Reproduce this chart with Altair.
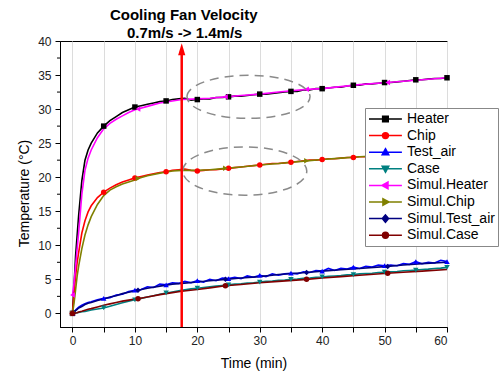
import altair as alt
import pandas as pd

series_names = ["Heater", "Chip", "Test_air", "Case",
                "Simul.Heater", "Simul.Chip", "Simul.Test_air", "Simul.Case"]
series_colors = ["#000000", "#ff0000", "#0000ff", "#008080",
                 "#ff00ff", "#808000", "#000080", "#800000"]
marker_shapes = ["square", "circle", "triangle-up", "triangle-down",
                 "triangle-left", "triangle-right", "diamond", "circle"]

# measured sampling (min)
meas_t = [0, 0.25, 0.5, 0.75, 1, 1.5, 2, 2.5, 3, 4, 5, 6, 7, 8, 9, 10, 11, 12, 13, 14, 15,
          16, 17, 18, 19, 20, 21, 22, 23, 24, 25, 26, 27, 28, 29, 30, 31, 32, 33, 34, 35,
          36, 37, 38, 39, 40, 41, 42, 43, 44, 45, 46, 47, 48, 49, 50, 51, 52, 53, 54, 55,
          56, 57, 58, 59, 60]
heater = [0, 4, 8.5, 11.5, 14.5, 19.5, 22.5, 24.0, 25.0, 26.5, 27.5, 28.3, 28.9, 29.5, 29.9, 30.3,
          30.5, 30.7, 30.9, 31.1, 31.2, 31.4, 31.5, 31.6, 31.3, 31.4, 31.5, 31.5, 31.7, 31.7,
          31.8, 31.9, 31.9, 32.0, 32.1, 32.2, 32.2, 32.3, 32.4, 32.5, 32.6, 32.6, 32.8, 32.8,
          33.0, 33.0, 33.1, 33.2, 33.2, 33.4, 33.5, 33.5, 33.7, 33.7, 33.8, 33.9, 33.9, 34.0,
          34.1, 34.2, 34.3, 34.3, 34.4, 34.5, 34.5, 34.6]
chip = [0, 3, 5.5, 7.5, 9, 11.8, 13.6, 14.9, 15.8, 17.0, 17.8, 18.4, 18.9, 19.3, 19.6, 19.9,
        20.1, 20.3, 20.5, 20.7, 20.8, 21.0, 21.1, 21.2, 21.0, 20.9, 21.0, 21.1, 21.1, 21.2,
        21.3, 21.4, 21.5, 21.6, 21.7, 21.8, 21.9, 22.0, 22.0, 22.1, 22.2, 22.3, 22.4, 22.5,
        22.5, 22.6, 22.7, 22.7, 22.8, 22.9, 22.9, 23.0, 23.0, 23.1, 23.1, 23.2, 23.2, 23.3,
        23.3, 23.4, 23.4, 23.5, 23.5, 23.6, 23.6, 23.7]
test_air = [0, 0.2, 0.5, 0.7, 0.9, 1.2, 1.4, 1.6, 1.7, 2.0, 2.2, 2.3, 2.7, 2.8, 3.2, 3.4,
            3.5, 3.9, 3.8, 4.3, 4.2, 4.5, 4.4, 4.7, 4.5, 4.8, 4.6, 5.0, 4.8, 5.2, 5.1, 5.3,
            5.1, 5.5, 5.3, 5.6, 5.4, 5.8, 5.6, 5.8, 5.9, 5.8, 6.1, 6.0, 6.3, 6.2, 6.6, 6.3,
            6.6, 6.5, 6.8, 6.6, 6.9, 6.8, 7.1, 7.0, 7.1, 7.0, 7.3, 7.2, 7.6, 7.3, 7.5, 7.4,
            7.8, 7.6]
case = [0, 0, 0.05, 0.1, 0.15, 0.25, 0.3, 0.4, 0.5, 0.65, 0.8, 1.05, 1.3, 1.55, 1.8, 2.0,
        2.2, 2.4, 2.6, 2.8, 3.0, 3.15, 3.3, 3.45, 3.6, 3.7, 3.8, 3.9, 4.0, 4.1, 4.2, 4.3,
        4.35, 4.45, 4.5, 4.6, 4.7, 4.75, 4.85, 4.9, 5.0, 5.05, 5.15, 5.2, 5.3, 5.35, 5.45,
        5.5, 5.55, 5.65, 5.7, 5.8, 5.85, 5.9, 6.0, 6.05, 6.1, 6.15, 6.25, 6.3, 6.35, 6.45,
        6.5, 6.6, 6.65, 6.75]
meas_marker_t = [0, 5, 10, 15, 20, 25, 30, 35, 40, 45, 50, 55, 60]

# simulation sampling (min)
sim_t = [0, 0.25, 0.5, 0.75, 1, 1.5, 2, 2.5, 3, 4, 5, 6, 7, 8, 9, 10, 10.5, 12, 14, 16, 17.5,
         20, 22, 24.5, 27, 30, 33, 37.5, 40, 43, 46, 50.5, 53, 56, 60]
sim_heater = [2.7, 4.5, 7, 9.5, 12, 17.5, 21.0, 22.8, 24.0, 25.8, 27.1, 27.9, 28.5, 29.0, 29.5,
              29.9, 30.0, 30.4, 30.9, 31.2, 31.4, 31.5, 31.6, 31.8, 32.0, 32.2, 32.5, 32.9,
              33.0, 33.3, 33.6, 33.9, 34.1, 34.3, 34.6]
sim_chip = [0, 1.5, 3.5, 5.5, 7, 9.5, 11.5, 13.0, 14.2, 16.0, 17.3, 18.1, 18.6, 19.0, 19.3,
            19.6, 19.8, 20.2, 20.6, 20.9, 21.0, 21.0, 21.1, 21.3, 21.5, 21.8, 22.0, 22.4, 22.6,
            22.8, 23.0, 23.2, 23.3, 23.5, 23.6]
sim_test_air = [0, 0.2, 0.4, 0.6, 0.8, 1.0, 1.3, 1.5, 1.6, 1.9, 2.1, 2.4, 2.6, 2.9, 3.1, 3.3,
                3.4, 3.7, 4.0, 4.3, 4.4, 4.6, 4.8, 5.0, 5.2, 5.4, 5.7, 6.0, 6.2, 6.4, 6.6, 6.9,
                7.1, 7.3, 7.5]
sim_case = [0, 0, 0.05, 0.1, 0.2, 0.3, 0.45, 0.6, 0.7, 0.95, 1.2, 1.4, 1.6, 1.8, 1.95, 2.1,
            2.15, 2.4, 2.75, 3.05, 3.25, 3.5, 3.75, 4.05, 4.25, 4.5, 4.7, 5.0, 5.2, 5.4, 5.6,
            5.9, 6.05, 6.2, 6.45]
sim_marker_t = [0, 10.5, 24.5, 37.5, 50.5]

# legend symbols: line segment + marker
legend_paths = [
    "M-1,0L3.7,0M0.95,-0.4L1.75,-0.4L1.75,0.4L0.95,0.4Z",
    "M-1,0L3.7,0M0.93,0A0.42,0.42 0 1,0 1.77,0A0.42,0.42 0 1,0 0.93,0Z",
    "M-1,0L3.7,0M1.35,-0.5L1.82,0.36L0.88,0.36Z",
    "M-1,0L3.7,0M1.35,0.5L1.82,-0.36L0.88,-0.36Z",
    "M-1,0L3.7,0M0.85,0L1.71,-0.47L1.71,0.47Z",
    "M-1,0L3.7,0M1.85,0L0.99,-0.47L0.99,0.47Z",
    "M-1,0L3.7,0M1.35,-0.52L1.8,0L1.35,0.52L0.9,0Z",
    "M-1,0L3.7,0M0.93,0A0.42,0.42 0 1,0 1.77,0A0.42,0.42 0 1,0 0.93,0Z",
]

# annotations
arrow_t = 17.5
title_lines = ["Cooling Fan Velocity", "0.7m/s -> 1.4m/s"]
ellipse_t = [28.2, 27.6]
ellipse_v = [31.8, 20.9]
minor_ticks_v = [2.5, 7.5, 12.5, 17.5, 22.5, 27.5, 32.5, 37.5]

rows = []
meas = [heater, chip, test_air, case]
sims = [sim_heater, sim_chip, sim_test_air, sim_case]
for name, vals in zip(series_names[:4], meas):
    for t, v in zip(meas_t, vals):
        rows.append({"series": name, "t": t, "v": v, "marker": t in meas_marker_t})
for name, vals in zip(series_names[4:], sims):
    for t, v in zip(sim_t, vals):
        rows.append({"series": name, "t": t, "v": v, "marker": t in sim_marker_t})
df = pd.DataFrame(rows)

FONT = "Liberation Sans"


def xenc(field="t"):
    return alt.X(f"{field}:Q", title="Time (min)",
                 scale=alt.Scale(domain=[-2, 60], nice=False, zero=False),
                 axis=alt.Axis(values=list(range(0, 61, 5)),
                               labelExpr="datum.value % 10 == 0 ? datum.label : ''",
                               grid=True, gridColor="#dcdcdc", gridWidth=1,
                               tickSize=5, labelPadding=3, titlePadding=10))


def yenc(field="v"):
    return alt.Y(f"{field}:Q", title="Temperature (°C)",
                 scale=alt.Scale(domain=[-2, 40], nice=False, zero=False),
                 axis=alt.Axis(values=list(range(0, 41, 5)), grid=False,
                               tickSize=5, labelPadding=4, titlePadding=6, titleY=152))


color_scale = alt.Scale(domain=series_names, range=series_colors)

leg = alt.Legend(title=None, orient="none", legendX=305, legendY=67,
                 symbolSize=196, symbolStrokeWidth=1.5, symbolOpacity=1,
                 labelFont=FONT, labelFontSize=14, labelColor="black",
                 labelOffset=23, rowPadding=1.6, padding=3,
                 strokeColor="#888888", fillColor="white")

base = alt.Chart(df)

legend_layer = base.mark_point(filled=True, opacity=0).encode(
    x=xenc(), y=yenc(),
    color=alt.Color("series:N", scale=color_scale, legend=leg),
    stroke=alt.Stroke("series:N", scale=color_scale, legend=leg),
    shape=alt.Shape("series:N", scale=alt.Scale(domain=series_names, range=legend_paths),
                    legend=leg),
)

lines = base.mark_line(strokeWidth=1.6).encode(
    x=xenc(), y=yenc(),
    color=alt.Color("series:N", scale=color_scale, legend=leg),
)

marker_layers = []
for name, shp in zip(series_names, marker_shapes):
    marker_layers.append(
        base.transform_filter((alt.datum.series == name) & alt.datum.marker)
        .mark_point(shape=shp, filled=True, size=30, opacity=1)
        .encode(x=xenc(), y=yenc(),
                color=alt.Color("series:N", scale=color_scale, legend=leg))
    )

ell_df = pd.DataFrame({"t": ellipse_t, "v": ellipse_v})
ell_upper = alt.Chart(ell_df.iloc[[0]]).mark_point(
    shape="M-1,0A1,0.35 0 1,1 1,0A1,0.35 0 1,1 -1,0Z", size=15129, filled=False,
    stroke="#8a8a8a", strokeWidth=1.5, strokeDash=[9, 6], opacity=1
).encode(x=xenc(), y=yenc())
ell_lower = alt.Chart(ell_df.iloc[[1]]).mark_point(
    shape="M-1,0A1,0.39 0 1,1 1,0A1,0.39 0 1,1 -1,0Z", size=15376, filled=False,
    stroke="#8a8a8a", strokeWidth=1.5, strokeDash=[9, 6], opacity=1
).encode(x=xenc(), y=yenc())

minor_df = pd.DataFrame({"v": minor_ticks_v})
minor_ticks = alt.Chart(minor_df).mark_rule(color="black", strokeWidth=1).encode(
    x=alt.value(-3), x2=alt.value(0), y=yenc())

arrow_df = pd.DataFrame({"t": [arrow_t], "v": [-2], "v2": [38.8]})
arrow_rule = alt.Chart(arrow_df).mark_rule(color="#ff0000", strokeWidth=2.5).encode(
    x=xenc(), y=yenc(), y2="v2:Q")
arrow_head = alt.Chart(arrow_df).mark_point(
    shape="M0,-1L0.6,1L-0.6,1Z", size=144, filled=True, color="#ff0000", opacity=1
).encode(x=xenc(), y=yenc("v2"))

title_df = pd.DataFrame({"t": [arrow_t], "l1": [title_lines[0]], "l2": [title_lines[1]]})
title1 = alt.Chart(title_df).mark_text(
    font=FONT, fontSize=15, fontWeight="bold", color="black", baseline="alphabetic", dx=2
).encode(x=xenc(), y=alt.value(-21), text="l1:N")
title2 = alt.Chart(title_df).mark_text(
    font=FONT, fontSize=15, fontWeight="bold", color="black", baseline="alphabetic", dx=3
).encode(x=xenc(), y=alt.value(-3), text="l2:N")

chart = alt.layer(
    legend_layer, lines, *marker_layers, ell_upper, ell_lower, minor_ticks,
    arrow_rule, arrow_head, title1, title2
).properties(
    width=387, height=286,
    padding={"left": 60, "top": 41, "right": 54, "bottom": 48},
    autosize=alt.AutoSizeParams(type="none"),
).configure_view(
    stroke="black", strokeWidth=1
).configure_axis(
    labelFont=FONT, labelFontSize=12, labelColor="#222222",
    titleFont=FONT, titleFontSize=14, titleFontWeight="normal", titleColor="black",
    domainColor="black", tickColor="black"
)

chart.save("out.html", embed_options={"renderer": "svg", "actions": False})
